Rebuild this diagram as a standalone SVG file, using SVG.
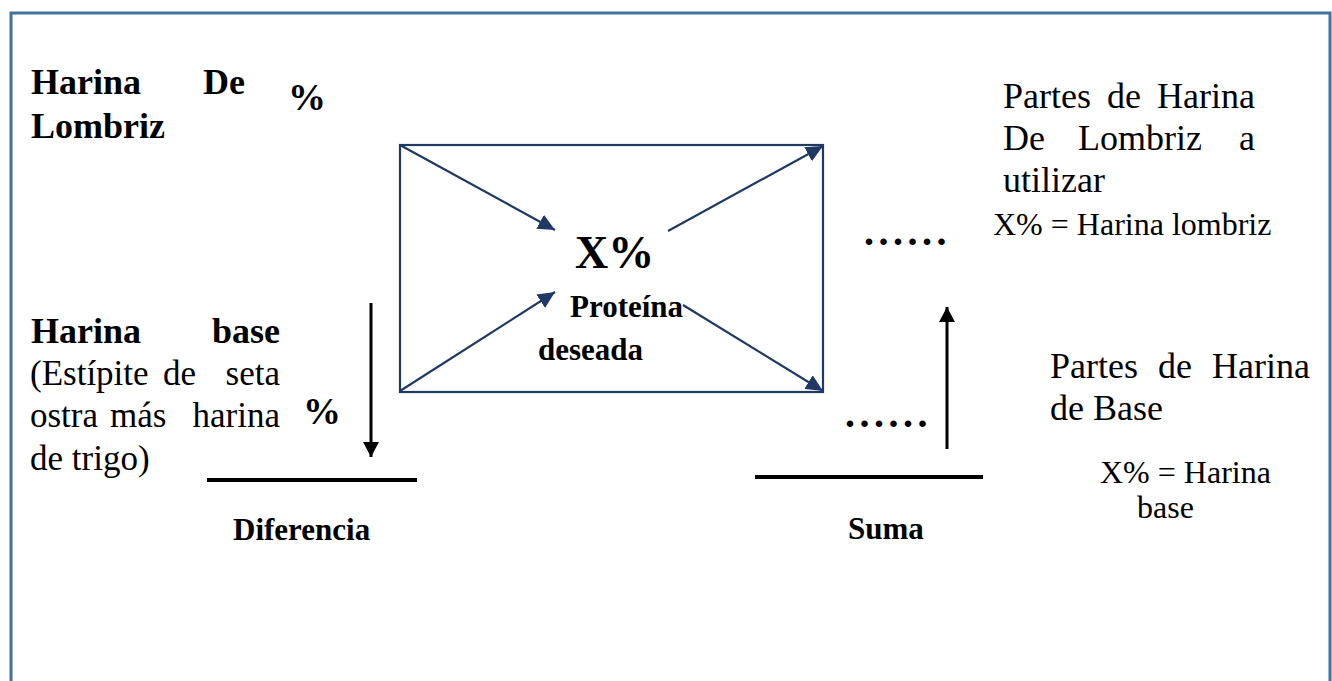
<svg xmlns="http://www.w3.org/2000/svg" width="1332" height="681" viewBox="0 0 1332 681">
<defs>
<style>
text{font-family:"Liberation Serif","Times New Roman",serif;fill:#000}
.b{font-weight:bold}
.conn{stroke:#1f3864;stroke-width:2.2;fill:none}
.blk{stroke:#000;stroke-width:3;fill:none}
.dots{font-weight:bold;font-size:40px;letter-spacing:4.5px}
</style>
<marker id="ah" markerUnits="userSpaceOnUse" markerWidth="18" markerHeight="16" refX="17" refY="8" orient="auto" viewBox="0 0 18 16">
<path d="M0,0 L17,8 L0,16 Z" fill="#1f3864"/>
</marker>
<marker id="ak" markerUnits="userSpaceOnUse" markerWidth="16" markerHeight="16" refX="15" refY="8" orient="auto" viewBox="0 0 16 16">
<path d="M0,0 L15,8 L0,16 Z" fill="#000"/>
</marker>
</defs>
<rect width="1332" height="681" fill="#fff"/>
<rect x="11" y="13" width="1319" height="720" fill="none" stroke="#41719c" stroke-width="3"/>

<g id="box">
<rect x="400" y="145" width="423" height="247" fill="none" stroke="#1f3864" stroke-width="2.2"/>
</g>

<g id="connectors">
<line class="conn" x1="400" y1="145" x2="555" y2="230" marker-end="url(#ah)"/>
<line class="conn" x1="400" y1="391" x2="555" y2="292" marker-end="url(#ah)"/>
<line class="conn" x1="668" y1="231" x2="823" y2="146" marker-end="url(#ah)"/>
<line class="conn" x1="683" y1="305" x2="823" y2="391" marker-end="url(#ah)"/>
<line class="blk" x1="371" y1="303" x2="371" y2="457" marker-end="url(#ak)"/>
<line class="blk" x1="947" y1="449" x2="947" y2="307" marker-end="url(#ak)"/>
<line stroke="#000" stroke-width="4" x1="207" y1="480" x2="417" y2="480"/>
<line stroke="#000" stroke-width="4" x1="755" y1="477" x2="983" y2="477"/>
</g>

<g id="harina-lombriz">
<text class="b" font-size="36" x="31" y="94">Harina</text>
<text class="b" font-size="36" x="245" y="94" text-anchor="end">De</text>
<text class="b" font-size="36" x="31" y="138">Lombriz</text>
<text class="b" font-size="38" x="288" y="110">%</text>
</g>

<g id="harina-base">
<text class="b" font-size="36" x="31" y="343">Harina</text>
<text class="b" font-size="36" x="280" y="343" text-anchor="end">base</text>
<text font-size="35" x="30" y="385">(Estípite</text>
<text font-size="35" x="163" y="385">de</text>
<text font-size="35" x="280" y="385" text-anchor="end">seta</text>
<text font-size="35" x="30" y="427">ostra</text>
<text font-size="35" x="110" y="427">más</text>
<text font-size="35" x="280" y="427" text-anchor="end">harina</text>
<text font-size="35" x="30" y="470">de trigo)</text>
<text class="b" font-size="38" x="303" y="424">%</text>
</g>

<g id="centro">
<text class="b" font-size="46" x="575" y="268">X%</text>
<text class="b" font-size="31" x="570" y="317">Proteína</text>
<text class="b" font-size="31" x="538" y="360">deseada</text>
</g>

<g id="partes-lombriz">
<text font-size="36" x="1003" y="108">Partes</text>
<text font-size="36" x="1107" y="108">de</text>
<text font-size="36" x="1255" y="108" text-anchor="end">Harina</text>
<text font-size="36" x="1003" y="150">De</text>
<text font-size="36" x="1078" y="150">Lombriz</text>
<text font-size="36" x="1255" y="150" text-anchor="end">a</text>
<text font-size="36" x="1003" y="192">utilizar</text>
<text font-size="32" x="993" y="235">X% = Harina lombriz</text>
<text class="dots" x="864" y="245">......</text>
</g>

<g id="partes-base">
<text font-size="36" x="1050" y="378">Partes</text>
<text font-size="36" x="1158" y="378">de</text>
<text font-size="36" x="1310" y="378" text-anchor="end">Harina</text>
<text font-size="36" x="1050" y="420">de Base</text>
<text font-size="32" x="1100" y="483">X% = Harina</text>
<text font-size="32" x="1137" y="518">base</text>
<text class="dots" x="845" y="427">......</text>
</g>

<g id="labels">
<text class="b" font-size="31" x="233" y="540">Diferencia</text>
<text class="b" font-size="31" x="848" y="539">Suma</text>
</g>
</svg>
